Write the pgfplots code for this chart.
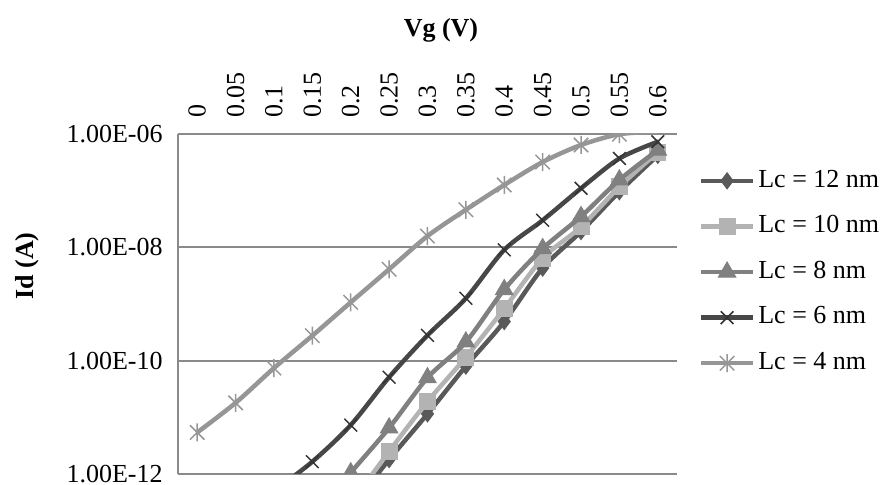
\documentclass[border=0pt]{standalone}
\usepackage{fontspec}
\setmainfont{Liberation Serif}
\usepackage{pgfplots}
\pgfplotsset{compat=1.18}
\definecolor{c12}{HTML}{595959}
\definecolor{c10}{HTML}{B3B3B3}
\definecolor{c8}{HTML}{808080}
\definecolor{c6}{HTML}{474747}
\definecolor{c6m}{HTML}{333333}
\definecolor{c4}{HTML}{969696}
\definecolor{gridc}{HTML}{8A8A8A}
\pgfdeclareplotmark{xstar}{%
  \pgfpathmoveto{\pgfqpoint{0pt}{\pgfplotmarksize}}%
  \pgfpathlineto{\pgfqpoint{0pt}{-\pgfplotmarksize}}%
  \pgfpathmoveto{\pgfqpoint{-0.8\pgfplotmarksize}{-0.8\pgfplotmarksize}}%
  \pgfpathlineto{\pgfqpoint{0.8\pgfplotmarksize}{0.8\pgfplotmarksize}}%
  \pgfpathmoveto{\pgfqpoint{-0.8\pgfplotmarksize}{0.8\pgfplotmarksize}}%
  \pgfpathlineto{\pgfqpoint{0.8\pgfplotmarksize}{-0.8\pgfplotmarksize}}%
  \pgfusepathqstroke}
\pgfplotsset{lgfour/.style={legend image code/.code={\draw[##1, mark indices={2}] plot coordinates {(0pt,0pt) (13pt,0pt) (26pt,0pt)};}}}
\begin{document}
\begin{tikzpicture}[font=\fontsize{13}{15.6}\selectfont]
\useasboundingbox (-89pt,-5.5pt) rectangle (353.5pt,237pt);
\begin{axis}[
  scale only axis, width=249.5pt, height=170pt,
  xmin=-0.025, xmax=0.625,
  ymode=log, ymin=1e-12, ymax=1e-6,
  xtick={0,0.05,0.1,0.15,0.2,0.25,0.3,0.35,0.4,0.45,0.5,0.55,0.6},
  xticklabels={0,0.05,0.1,0.15,0.2,0.25,0.3,0.35,0.4,0.45,0.5,0.55,0.6},
  xticklabel pos=upper,
  xticklabel style={rotate=90, anchor=west, inner sep=0pt},
  xticklabel shift=8pt,
  ytick={1e-12,1e-10,1e-8,1e-6},
  yticklabels={1.00E-12,1.00E-10,1.00E-08,1.00E-06},
  yticklabel style={anchor=east, inner sep=0pt},
  yticklabel shift=7.5pt,
  major tick length=0pt, minor tick length=0pt, tick style={draw=none},
  ymajorgrids, grid style={gridc, line width=1pt},
  axis line style={draw=none},
  clip marker paths=true,
  xlabel={\textbf{Vg (V)}},
  xlabel style={at={(axis description cs:0.527,1.306)}, anchor=center},
  ylabel={\textbf{Id (A)}},
  ylabel style={at={(axis description cs:-0.3026,0.612)}, anchor=center},
  extra description/.code={\draw[gridc, line width=1pt] (axis description cs:0,0) -- (axis description cs:0,1);},
  legend cell align=left,
  legend style={draw=none, fill=none, at={(axis description cs:1.043,0.594)}, anchor=west,
    inner sep=0pt, row sep=11pt,
    nodes={inner sep=0pt, text height=9pt, text depth=2.8pt},
    /tikz/every odd column/.append style={column sep=1.5pt}},
  legend image code/.code={\draw[mark repeat=2,mark phase=2,#1] plot coordinates {(0pt,0pt) (13pt,0pt) (26pt,0pt)};},
  every axis plot/.append style={line width=2.25pt, smooth},
]
\addplot[c12, mark=diamond*, mark size=4pt, mark options={solid, fill=c12, line width=0.5pt}] coordinates {
 (0.2,2.5e-13) (0.25,1.8e-12) (0.3,1.15e-11) (0.35,8e-11) (0.4,4.9e-10) (0.45,4.3e-9) (0.5,1.9e-8) (0.55,9.6e-8) (0.6,4.2e-7)};
\addlegendentry{Lc = 12 nm}
\addplot[c10, mark=square*, mark size=4pt, mark options={solid, fill=c10, line width=0.5pt}] coordinates {
 (0.2,3e-13) (0.25,2.5e-12) (0.3,1.9e-11) (0.35,1.15e-10) (0.4,8.3e-10) (0.45,6.4e-9) (0.5,2.3e-8) (0.55,1.17e-7) (0.6,4.8e-7)};
\addlegendentry{Lc = 10 nm}
\addplot[c8, mark=triangle*, mark size=5pt, mark options={solid, fill=c8, line width=0.5pt}] coordinates {
 (0.15,1.5e-13) (0.2,1.05e-12) (0.25,6.5e-12) (0.3,5e-11) (0.35,2.14e-10) (0.4,1.8e-9) (0.45,9.5e-9) (0.5,3.5e-8) (0.55,1.55e-7) (0.6,5.2e-7)};
\addlegendentry{Lc = 8 nm}
\addplot[c6, mark=x, mark size=4.5pt, mark options={solid, draw=c6m, line width=0.75pt}] coordinates {
 (0.1,5e-13) (0.15,1.65e-12) (0.2,7.3e-12) (0.25,5.1e-11) (0.3,2.8e-10) (0.35,1.26e-9) (0.4,9.0e-9) (0.45,3.0e-8) (0.5,1.1e-7) (0.55,3.7e-7) (0.6,7.3e-7)};
\addlegendentry{Lc = 6 nm}
\addplot[c4, mark=xstar, mark size=4.5pt, mark indices={1,2,3,4,5,6,7,8,9,10,11,12}, mark options={solid, draw=c4, line width=0.75pt}, lgfour] coordinates {
 (0,5.4e-12) (0.05,1.8e-11) (0.1,7.4e-11) (0.15,2.76e-10) (0.2,1.07e-9) (0.25,4.1e-9) (0.3,1.58e-8) (0.35,4.6e-8) (0.4,1.26e-7) (0.45,3.2e-7) (0.5,6.4e-7) (0.55,9.9e-7) (0.6,1.1e-6)};
\addlegendentry{Lc = 4 nm}
\end{axis}
\end{tikzpicture}
\end{document}
